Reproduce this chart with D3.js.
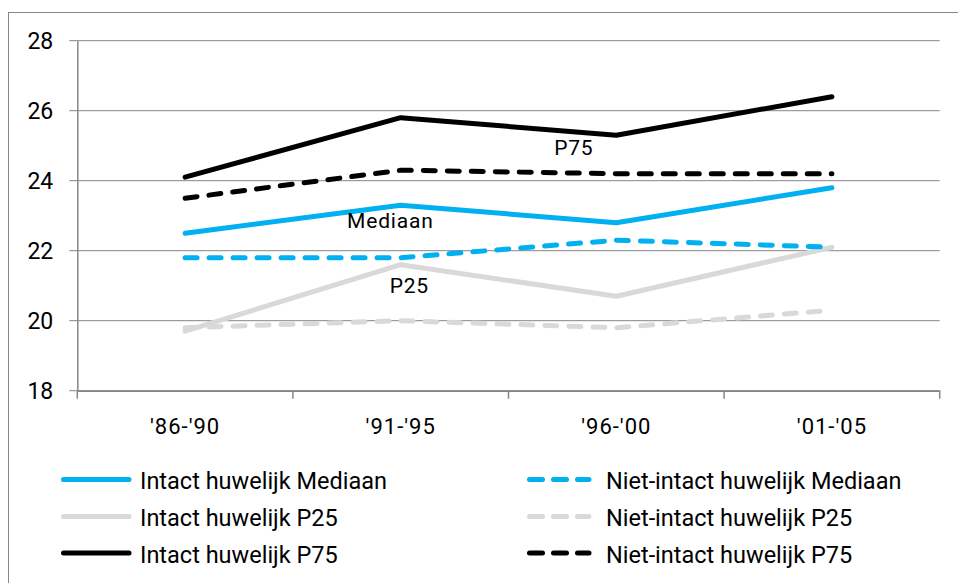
<!DOCTYPE html>
<html>
<head>
<meta charset="utf-8">
<script src="https://cdn.jsdelivr.net/npm/d3@7"></script>
<style>
  body { margin: 0; background: #fff; }
  svg { display: block; font-family: Roboto, "Liberation Sans", sans-serif; }
</style>
</head>
<body>
<svg id="chart" width="958" height="583"></svg>
<script>
/* periods on the x axis */
const periods = ["'86-'90", "'91-'95", "'96-'00", "'01-'05"];
const yTicks = [18, 20, 22, 24, 26, 28];

/* values */
const intactMediaan = [22.5, 23.3, 22.8, 23.8];
const nietIntactMediaan = [21.8, 21.8, 22.3, 22.1];
const intactP25 = [19.7, 21.6, 20.7, 22.1];
const nietIntactP25 = [19.8, 20.0, 19.8, 20.3];
const intactP75 = [24.1, 25.8, 25.3, 26.4];
const nietIntactP75 = [23.5, 24.3, 24.2, 24.2];

const seriesNames = [
    "Intact huwelijk Mediaan", "Niet-intact huwelijk Mediaan",
    "Intact huwelijk P25", "Niet-intact huwelijk P25",
    "Intact huwelijk P75", "Niet-intact huwelijk P75"
];
const seriesValues = [intactMediaan, nietIntactMediaan, intactP25, nietIntactP25, intactP75, nietIntactP75];
const seriesColors = ["#00b0f0", "#00b0f0", "#d9d9d9", "#d9d9d9", "#000000", "#000000"];
const seriesDashed = [false, true, false, true, false, true];

/* in-chart labels: text, position as period index, value */
const noteTexts = ["Mediaan", "P25", "P75"];
const noteIndex = [0.952, 1.04, 1.803];
const noteValues = [22.65, 20.79, 24.73];

const svg = d3.select("#chart");
const margin = {left: 77.3, right: 939.7, top: 40.7, bottom: 390.7};
const fontStack = "Roboto, 'Liberation Sans', sans-serif";

/* outer chart border (right and bottom run off the picture) */
svg.append("rect")
    .attr("x", 8.5).attr("y", 12.5)
    .attr("width", 1000).attr("height", 1000)
    .attr("fill", "none")
    .attr("stroke", "#868686")
    .attr("stroke-width", 1);

const x = d3.scaleBand().domain(periods).range([margin.left, margin.right]).paddingInner(0).paddingOuter(0);
const xIdx = d3.scaleLinear().domain([-0.5, periods.length - 0.5]).range([margin.left, margin.right]);
const y = d3.scaleLinear().domain([18, 28]).range([margin.bottom, margin.top]);

/* gridlines */
svg.append("g")
    .selectAll("line")
    .data(yTicks)
    .enter()
    .append("line")
    .attr("x1", margin.left - 8)
    .attr("x2", margin.right)
    .attr("y1", d => y(d))
    .attr("y2", d => y(d))
    .attr("stroke", "#868686")
    .attr("stroke-width", 1);

/* y axis */
const yAxis = svg.append("g")
    .attr("transform", "translate(" + margin.left + ",0)")
    .call(d3.axisLeft(y).tickValues(yTicks).tickSize(0).tickPadding(24));
yAxis.select(".domain").attr("stroke", "#868686").attr("stroke-width", 1.5);
yAxis.selectAll("text")
    .attr("font-size", 23)
    .attr("fill", "#000")
    .attr("font-family", fontStack);

/* x axis: labels in the band centres, ticks on the band edges */
const xAxis = svg.append("g")
    .attr("transform", "translate(0," + margin.bottom + ")")
    .call(d3.axisBottom(x).tickSize(0).tickPadding(28));
xAxis.select(".domain").attr("stroke", "#868686").attr("stroke-width", 1.5);
xAxis.selectAll("text")
    .attr("font-size", 22)
    .attr("letter-spacing", 1)
    .attr("fill", "#000")
    .attr("font-family", fontStack);

const edges = periods.map(p => x(p)).concat([x.range()[1]]);
svg.append("g")
    .selectAll("line")
    .data(edges)
    .enter()
    .append("line")
    .attr("x1", d => d).attr("x2", d => d)
    .attr("y1", margin.bottom).attr("y2", margin.bottom + 8)
    .attr("stroke", "#868686")
    .attr("stroke-width", 1.5);

/* lines */
const line = d3.line()
    .x((d, i) => x(periods[i]) + x.bandwidth() / 2)
    .y(d => y(d));

/* draw order: light ones first so the dark ones sit on top */
const drawOrder = [3, 2, 1, 0, 5, 4];
svg.append("g")
    .selectAll("path")
    .data(drawOrder)
    .enter()
    .append("path")
    .attr("d", i => line(seriesValues[i]))
    .attr("fill", "none")
    .attr("stroke", i => seriesColors[i])
    .attr("stroke-width", 5)
    .attr("stroke-linecap", "round")
    .attr("stroke-linejoin", "round")
    .attr("stroke-dasharray", i => seriesDashed[i] ? "12 12" : null);

/* labels inside the plot */
svg.append("g")
    .selectAll("text")
    .data(noteTexts)
    .enter()
    .append("text")
    .attr("x", (d, i) => xIdx(noteIndex[i]))
    .attr("y", (d, i) => y(noteValues[i]))
    .attr("text-anchor", "middle")
    .attr("font-size", 21)
    .attr("letter-spacing", 0.8)
    .text(d => d);

/* legend: two columns of three rows */
const legendRows = [479.5, 516.5, 553];
const legendCols = [61, 527];
const legend = svg.append("g").attr("id", "legend");
seriesNames.forEach((name, i) => {
    const col = i % 2;
    const row = Math.floor(i / 2);
    const lx = legendCols[col];
    const ly = legendRows[row];
    legend.append("line")
        .attr("x1", lx + 2.5)
        .attr("x2", seriesDashed[i] ? lx + 62 : lx + 68)
        .attr("y1", ly).attr("y2", ly)
        .attr("stroke", seriesColors[i])
        .attr("stroke-width", 5)
        .attr("stroke-linecap", "round")
        .attr("stroke-dasharray", seriesDashed[i] ? "13 11" : null);
    legend.append("text")
        .attr("x", seriesDashed[i] ? lx + 79 : lx + 79)
        .attr("y", ly + 9.5)
        .attr("font-size", 23.5)
        .text(name);
});
</script>
</body>
</html>
